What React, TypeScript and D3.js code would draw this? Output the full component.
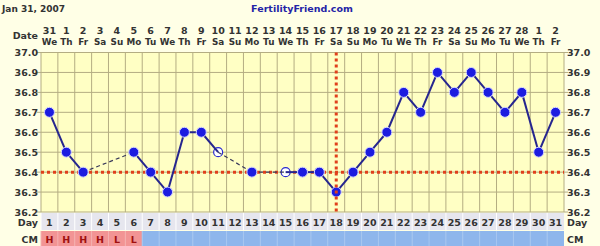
import React from "react";
import * as d3 from "d3";

const dayNums = d3.range(1, 32);
const dateLabels = ["31","1","2","3","4","5","6","7","8","9","10","11","12","13","14","15","16","17","18","19","20","21","22","23","24","25","26","27","28","1","2"];
const weekdays = ["We","Th","Fr","Sa","Su","Mo","Tu","We","Th","Fr","Sa","Su","Mo","Tu","We","Th","Fr","Sa","Su","Mo","Tu","We","Th","Fr","Sa","Su","Mo","Tu","We","Th","Fr"];
const temps: (number | null)[] = [36.7,36.5,36.4,null,null,36.5,36.4,36.3,36.6,36.6,36.5,null,36.4,null,36.4,36.4,36.4,36.3,36.4,36.5,36.6,36.8,36.7,36.9,36.8,36.9,36.8,36.7,36.8,36.5,36.7];
const discarded = [11, 15];
const cmLabels = ["H","H","H","H","L","L"];
const yTicks = [36.2,36.3,36.4,36.5,36.6,36.7,36.8,36.9,37.0];
const coverTemp = 36.4;
const ovulationDay = 18;

const W = 600, H = 246;
const L = 41, R = 564, T = 52.5, B = 212;
const font = "'DejaVu Sans', Verdana, sans-serif";

export default function App() {
  const x = d3.scaleBand<number>().domain(dayNums).range([L, R]);
  const cx = (d: number) => (x(d) as number) + x.bandwidth() / 2;
  const y = d3.scaleLinear().domain([36.2, 37.0]).range([B, T]);

  const pts = dayNums.map((d, i) => ({ d, t: temps[i] })).filter(p => p.t != null) as { d: number; t: number }[];
  const segs = pts.slice(1).map((p, i) => ({ a: pts[i], b: p, gap: p.d - pts[i].d > 1 }));
  const line = d3.line<{ d: number; t: number }>().x(p => cx(p.d)).y(p => y(p.t));

  const gridC = "#b4ad82";
  const txt = "#333333";

  return (
    <svg width={W} height={H} style={{ position: "absolute", left: 0, top: 0 }} fontFamily={font}>
      <rect x={0} y={0} width={W} height={H} fill="#ffffe6" />
      <rect x={L} y={T} width={R - L} height={B - T} fill="#ffffc4" />
      <text x={2} y={12} fontSize={9} fontWeight="bold" fill={txt}>Jan 31, 2007</text>
      <text x={302} y={12} fontSize={9.5} fontWeight="bold" fill="#2424a6" textAnchor="middle">FertilityFriend.com</text>
      <text x={38} y={39} fontSize={9.5} fontWeight="bold" fill={txt} textAnchor="end">Date</text>
      {dayNums.map((d, i) => (
        <g key={"h" + d}>
          <text x={cx(d)} y={34} fontSize={9.5} fontWeight="bold" fill={txt} textAnchor="middle">{dateLabels[i]}</text>
          <text x={cx(d)} y={45} fontSize={8.8} fontWeight="bold" fill={txt} textAnchor="middle">{weekdays[i]}</text>
        </g>
      ))}
      {/* grid */}
      {yTicks.map(t => (
        <g key={"y" + t}>
          <line x1={L - 4} x2={R + 4} y1={y(t)} y2={y(t)} stroke={gridC} strokeWidth={1} />
          <text x={38} y={y(t) + 3.5} fontSize={9.5} fontWeight="bold" fill={txt} textAnchor="end">{t.toFixed(1)}</text>
          <text x={567} y={y(t) + 3.5} fontSize={9.5} fontWeight="bold" fill={txt}>{t.toFixed(1)}</text>
        </g>
      ))}
      {dayNums.concat([32]).map(d => {
        const xx = d <= 31 ? (x(d) as number) : R;
        return <line key={"v" + d} x1={xx} x2={xx} y1={T} y2={B} stroke={gridC} strokeWidth={1} />;
      })}
      {/* day row */}
      <rect x={L} y={213} width={R - L} height={17} fill="#e6e6ee" />
      <text x={38} y={226} fontSize={9.5} fontWeight="bold" fill={txt} textAnchor="end">Day</text>
      <text x={567} y={226} fontSize={9.5} fontWeight="bold" fill={txt}>Day</text>
      {dayNums.map(d => (
        <g key={"d" + d}>
          <line x1={x(d) as number} x2={x(d) as number} y1={213} y2={230} stroke="#ffffff" strokeWidth={1} />
          <text x={cx(d)} y={226} fontSize={9.5} fontWeight="bold" fill={txt} textAnchor="middle">{d}</text>
        </g>
      ))}
      {/* CM row */}
      <text x={38} y={243} fontSize={9.5} fontWeight="bold" fill={txt} textAnchor="end">CM</text>
      <text x={567} y={243} fontSize={9.5} fontWeight="bold" fill={txt}>CM</text>
      {dayNums.map((d, i) => (
        <g key={"c" + d}>
          <rect x={x(d) as number} y={231} width={x.bandwidth()} height={15} fill={i < cmLabels.length ? "#f29494" : "#8eb6ec"} />
          <line x1={x(d) as number} x2={x(d) as number} y1={231} y2={246} stroke={i < cmLabels.length ? "#f4b0b0" : "#a6c6f0"} strokeWidth={1} />
          {i < cmLabels.length && (
            <text x={cx(d)} y={243} fontSize={9.5} fontWeight="bold" fill="#a01010" textAnchor="middle">{cmLabels[i]}</text>
          )}
        </g>
      ))}
      {/* coverline */}
      <line x1={L} x2={R} y1={y(coverTemp)} y2={y(coverTemp)} stroke="#e0401c" strokeWidth={3} strokeDasharray="3,3" />
      {/* open markers */}
      {pts.filter(p => discarded.includes(p.d)).map(p => (
        <circle key={"o" + p.d} cx={cx(p.d)} cy={y(p.t)} r={4.5} fill="#ffffff" stroke="#2a2ad0" strokeWidth={1.2} />
      ))}
      {/* lines */}
      {segs.map((s, i) => (
        <path key={"s" + i} d={line([s.a, s.b]) as string} fill="none"
          stroke={s.gap ? "#3a3a5a" : "#26268e"} strokeWidth={s.gap ? 1.2 : 2}
          strokeDasharray={s.gap ? "4,3" : undefined} />
      ))}
      {/* filled markers */}
      {pts.filter(p => !discarded.includes(p.d)).map(p => (
        <circle key={"m" + p.d} cx={cx(p.d)} cy={y(p.t)} r={5} fill="#1c1ce0" stroke="#d8d8ff" strokeWidth={1} />
      ))}
      {/* ovulation line */}
      <line x1={cx(ovulationDay)} x2={cx(ovulationDay)} y1={T} y2={B} stroke="#e0401c" strokeWidth={3} strokeDasharray="3,3" />
    </svg>
  );
}
